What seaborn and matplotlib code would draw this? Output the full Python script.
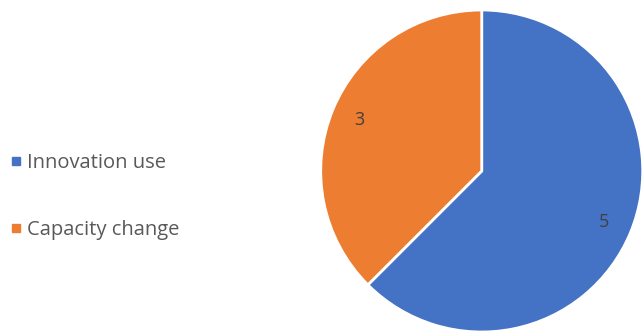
import matplotlib
matplotlib.use("Agg")
import matplotlib.pyplot as plt
import seaborn as sns
from matplotlib.lines import Line2D

categories = ["Innovation use", "Capacity change"]
values = [5, 3]
colors = ["#4472C4", "#ED7D31"]

sns.set_theme(style="white")
plt.rcParams['font.family'] = ['Open Sans', 'DejaVu Sans']

fig = plt.figure(figsize=(6.44, 3.33), dpi=100)
ax = fig.add_axes([0.498, 0.003, 0.5, 0.967])
wedges, texts, autotexts = ax.pie(
    values, colors=colors, startangle=90, counterclock=False,
    autopct=lambda p: f"{round(p * sum(values) / 100):d}",
    pctdistance=0.82,
    wedgeprops=dict(edgecolor="white", linewidth=2),
    textprops=dict(color="#404040", fontsize=13))
ax.set_xlim(-1.0, 1.0)
ax.set_ylim(-1.0, 1.0)
ax.set_aspect("equal")
ax.axis("off")

handles = [Line2D([0], [0], marker='s', linestyle='none', markersize=6,
                  markerfacecolor=c, markeredgecolor=c) for c in colors]
fig.legend(handles, categories, loc="center left", bbox_to_anchor=(-0.019, 0.41),
           frameon=False, fontsize=14.5, labelcolor="#595959",
           handletextpad=0.05, labelspacing=2.3, handlelength=1.0)

fig.savefig("out.png", dpi=100)
